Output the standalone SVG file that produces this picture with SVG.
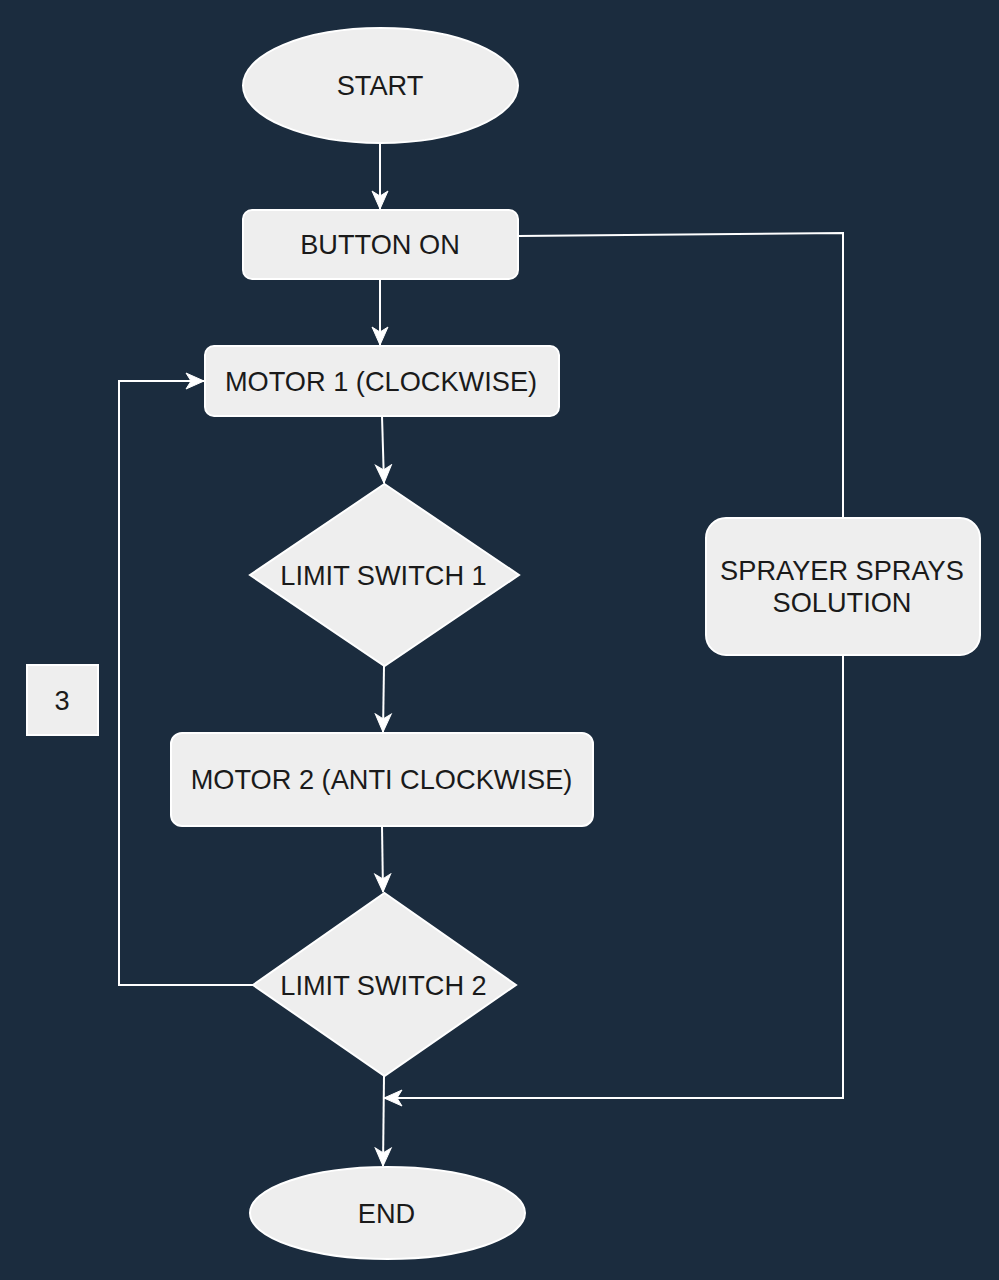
<svg xmlns="http://www.w3.org/2000/svg" width="999" height="1280" viewBox="0 0 999 1280">
<defs>
<marker id="arr" markerUnits="userSpaceOnUse" markerWidth="22" markerHeight="22" viewBox="0 0 22 22" refX="19" refY="11" orient="auto">
<path d="M1,3 L19,11 L1,19 L6,11 Z" fill="#ffffff" stroke="#ffffff" stroke-width="1"/>
</marker>
</defs>
<style>
.n{fill:#eeeeee;stroke:#ffffff;stroke-width:2}
.t{font-family:"Liberation Sans",Arial,sans-serif;font-size:27.2px;fill:#1a1a1a;text-anchor:middle}
.c{fill:none;stroke:#ffffff;stroke-width:2}
</style>
<rect x="0" y="0" width="999" height="1280" fill="#1b2c3e"/>
<g id="connectors">
<path class="c" d="M380,143 L380,209" marker-end="url(#arr)"/>
<path class="c" d="M380,279 L380,345" marker-end="url(#arr)"/>
<path class="c" d="M382,416 L384,483" marker-end="url(#arr)"/>
<path class="c" d="M384,666 L383,732" marker-end="url(#arr)"/>
<path class="c" d="M382,826 L383,892" marker-end="url(#arr)"/>
<path class="c" d="M253,985 L119,985 L119,381 L204,381" marker-end="url(#arr)"/>
<path class="c" d="M384,1076 L383,1166" marker-end="url(#arr)"/>
<path class="c" d="M518,236 L843,233 L843,518"/>
<path class="c" d="M843,655 L843,1098 L384,1098" marker-end="url(#arr)"/>
</g>
<g id="start">
<ellipse class="n" cx="380.5" cy="85.5" rx="137.5" ry="57.5"/>
<text class="t" x="380" y="95">START</text>
</g>
<g id="button-on">
<rect class="n" x="243" y="210" width="275" height="69" rx="9"/>
<text class="t" x="380" y="254">BUTTON ON</text>
</g>
<g id="motor1">
<rect class="n" x="205" y="346" width="354" height="70" rx="9"/>
<text class="t" x="381" y="391">MOTOR 1 (CLOCKWISE)</text>
</g>
<g id="limit-switch-1">
<polygon class="n" points="384.5,484 519,575 384.5,666 250,575"/>
<text class="t" x="383.5" y="585">LIMIT SWITCH 1</text>
</g>
<g id="motor2">
<rect class="n" x="171" y="733" width="422" height="93" rx="11"/>
<text class="t" x="381.5" y="789">MOTOR 2 (ANTI CLOCKWISE)</text>
</g>
<g id="limit-switch-2">
<polygon class="n" points="384.5,893 516,985 384.5,1076 253,985"/>
<text class="t" x="383.5" y="995">LIMIT SWITCH 2</text>
</g>
<g id="end">
<ellipse class="n" cx="387.5" cy="1213" rx="137.5" ry="46"/>
<text class="t" x="386.5" y="1223">END</text>
</g>
<g id="sprayer">
<rect class="n" x="706" y="518" width="274" height="137" rx="20"/>
<text class="t" x="842" y="580">SPRAYER SPRAYS</text>
<text class="t" x="842" y="612">SOLUTION</text>
</g>
<g id="label-3">
<rect class="n" x="27" y="665" width="71" height="70"/>
<text class="t" x="62" y="710">3</text>
</g>
</svg>
